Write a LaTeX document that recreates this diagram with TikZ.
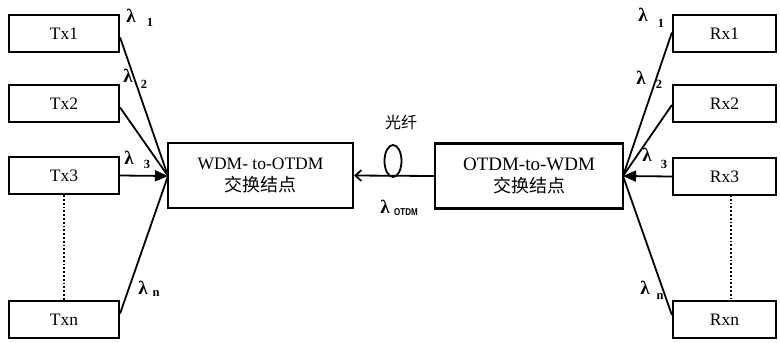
\documentclass[tikz,border=0pt]{standalone}
\usepackage{fontspec}
\setmainfont{Liberation Serif}
\newfontfamily\cjk{Noto Sans CJK SC}
\newfontfamily\lamfont{Liberation Serif}
\newfontfamily\subsf{Liberation Sans}[FakeStretch=0.8]
\usetikzlibrary{arrows.meta,shapes.geometric}
\begin{document}
\begin{tikzpicture}[x=1pt,y=-1pt,
  boxs/.style={draw,line width=2.2pt,minimum width=110pt,minimum height=37pt,inner sep=0pt,font=\fontsize{17.5}{17.5}\selectfont},
  rxbox/.style={boxs,minimum width=103pt},
  bigbox/.style={draw,line width=2.2pt,minimum height=65pt,inner sep=0pt,align=center,font=\fontsize{17.5}{22}\selectfont},
  conn/.style={line width=1.8pt},
  lam/.style={inner sep=0pt,font=\lamfont\bfseries\fontsize{19}{19}\selectfont},
  sub/.style={inner sep=0pt,font=\bfseries\fontsize{12.5}{12.5}\selectfont},
  fill arrow/.style={-{Triangle[length=13pt,width=11pt]}},
]
\useasboundingbox (0,0) rectangle (780,343);
% transmitters
\node[boxs] (tx1) at (64,33.5) {Tx1};
\node[boxs] (tx2) at (64,103.5) {Tx2};
\node[boxs] (tx3) at (64,175.5) {Tx3};
\node[boxs] (txn) at (64,319.5) {Txn};
% receivers
\node[rxbox] (rx1) at (724.5,33.5) {Rx1};
\node[rxbox] (rx2) at (724.5,103.5) {Rx2};
\node[rxbox] (rx3) at (724.5,176.5) {Rx3};
\node[rxbox] (rxn) at (724.5,319.5) {Rxn};
% nodes
\node[bigbox,minimum width=185pt] (wdm) at (260.5,175.5) {WDM- to-OTDM\\{\cjk\fontsize{18}{18}\selectfont 交换结点}};
\node[bigbox,minimum width=188pt,font=\fontsize{19}{22}\selectfont] (otdm) at (529,176) {OTDM-to-WDM\\{\cjk\fontsize{18}{18}\selectfont 交换结点}};
\coordinate (L) at (168,176);
\coordinate (R) at (623,176);
% left connectors
\draw[conn] ([yshift=-4pt]tx1.east) -- (L);
\draw[conn] ([yshift=-4pt]tx2.east) -- (L);
\draw[conn,fill arrow] (tx3.east) -- (L);
\draw[conn] ([yshift=6pt]txn.east) -- (L);
\draw[conn,dotted] (tx3.south) -- (txn.north);
% right connectors
\draw[conn] ([yshift=1pt]rx1.west) -- (R);
\draw[conn] ([yshift=-1.5pt]rx2.west) -- (R);
\draw[conn,fill arrow] (rx3.west) -- (R);
\draw[conn] ([yshift=4.5pt]rxn.west) -- (R);
\coordinate (d1) at (731,195);
\coordinate (d2) at (731,301);
\draw[conn,dotted] (d1) -- (d2);
% fiber
\draw[conn,-{Straight Barb[length=6pt,width=11pt]}] (otdm.west) -- (wdm.east);
\node[draw,line width=1.8pt,ellipse,minimum width=17pt,minimum height=32pt,inner sep=0pt] (loop) at (393,161) {};
\node[font=\cjk\fontsize{16}{16}\selectfont] (fib) at (401,122) {光纤};
\node[lam] (lo) at (385,207) {λ};
\node[inner sep=0pt,font=\subsf\bfseries\fontsize{10}{10}\selectfont,anchor=west] (los) at (394,212) {OTDM};
% left labels
\node[lam] (l1) at (131,16) {λ}; \node[sub] (l1s) at (150,22) {1};
\node[lam] (l2) at (128,76) {λ}; \node[sub] (l2s) at (144,84) {2};
\node[lam] (l3) at (129,158) {λ}; \node[sub] (l3s) at (147,164) {3};
\node[lam] (ln) at (143,288) {λ}; \node[sub] (lns) at (156,294) {n};
% right labels
\node[lam] (r1) at (643,15) {λ}; \node[sub] (r1s) at (661,23) {1};
\node[lam] (r2) at (641,78) {λ}; \node[sub] (r2s) at (659,84) {2};
\node[lam] (r3) at (647,155) {λ}; \node[sub] (r3s) at (664,164) {3};
\node[lam] (rn) at (645,288) {λ}; \node[sub] (rns) at (660,297) {n};
\end{tikzpicture}
\end{document}
